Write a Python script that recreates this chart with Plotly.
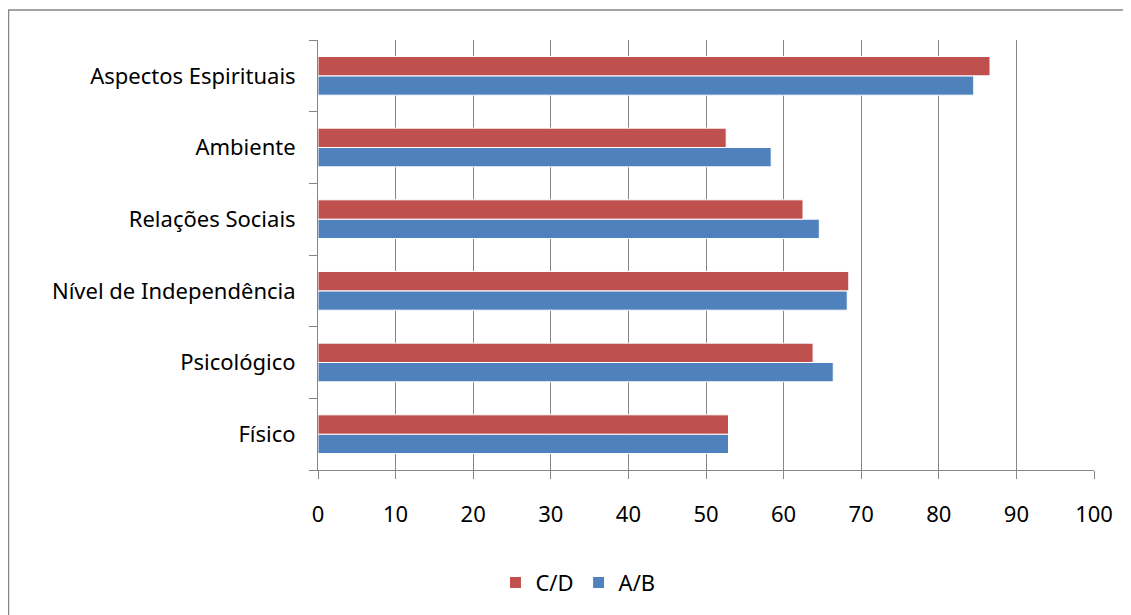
import plotly.graph_objects as go

categories = ["Físico", "Psicológico", "Nível de Independência", "Relações Sociais", "Ambiente", "Aspectos Espirituais"]
ab_values = [52.9, 66.4, 68.2, 64.6, 58.4, 84.5]
cd_values = [52.9, 63.8, 68.4, 62.5, 52.6, 86.6]
x_ticks = [0, 10, 20, 30, 40, 50, 60, 70, 80, 90, 100]

W, H = 1131, 615
OFF = 8  # page body margin
L, T = 318 - OFF, 40 - OFF
R = W - (1094 - OFF)
B = H - (470 - OFF)

fig = go.Figure()
fig.add_trace(go.Bar(y=categories, x=ab_values, name="A/B", orientation="h",
                     marker=dict(color="#4F81BD", line=dict(color="white", width=1))))
fig.add_trace(go.Bar(y=categories, x=cd_values, name="C/D", orientation="h",
                     marker=dict(color="#C0504D", line=dict(color="white", width=1))))

pw = W - L - R
ph = H - T - B
# outer chart border (fig pixel coords -> paper coords)
bx0, by0 = 0.5, 2
fig.add_shape(type="rect", xref="paper", yref="paper",
              x0=(bx0 - L) / pw, x1=(W + 20 - L) / pw,
              y0=(H - (H + 20) - B) / ph + 0, y1=(H - by0 - B) / ph,
              line=dict(color="#868686", width=1.5), fillcolor="rgba(0,0,0,0)", layer="below")

fig.update_layout(
    width=W, height=H,
    margin=dict(l=L, r=R, t=T, b=B, pad=0),
    paper_bgcolor="white", plot_bgcolor="white",
    barmode="group", bargap=0.46, bargroupgap=0.0,
    font=dict(family="Noto Sans", size=22, color="#000000"),
    xaxis=dict(range=[0, 100], tickvals=x_ticks, showgrid=True, gridcolor="#868686", gridwidth=1,
               showline=True, linecolor="#868686", linewidth=1, ticks="outside", ticklen=8,
               tickcolor="#868686", zeroline=False, tickfont=dict(size=22), ticklabelstandoff=17),
    yaxis=dict(type="category", categoryorder="array", categoryarray=categories,
               showline=True, linecolor="#868686", linewidth=1, ticks="outside", ticklen=8,
               tickcolor="#868686", tickson="boundaries", showgrid=False, ticklabelstandoff=17,
               tickfont=dict(size=22)),
    legend=dict(orientation="h", x=0.335, xanchor="center", y=-0.262, yanchor="middle",
                traceorder="reversed", font=dict(size=22), itemwidth=30),
    showlegend=True,
)

fig.write_html("out.html")
